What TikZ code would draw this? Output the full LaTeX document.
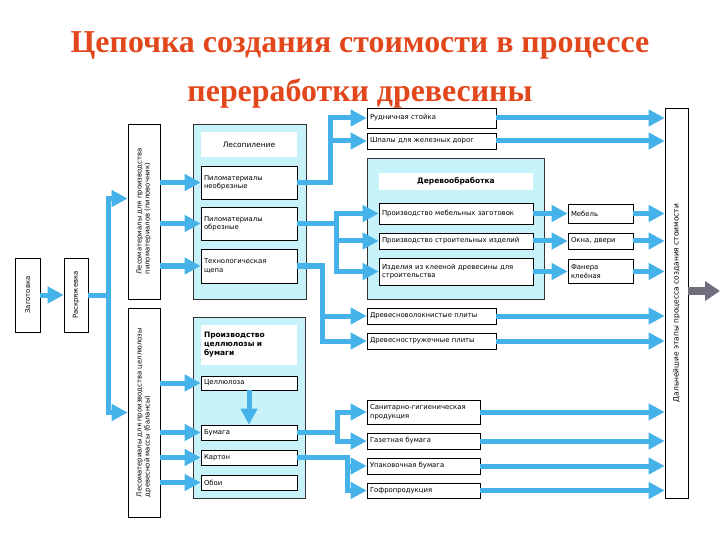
\documentclass[tikz,border=0pt]{standalone}
\usepackage{fontspec}
\usepackage{graphicx}
\setmainfont{Liberation Serif}
\newfontfamily\chainsans{DejaVu Sans}
\usetikzlibrary{arrows.meta, positioning, calc}
\definecolor{chainred}{HTML}{E2471C}
\definecolor{chainblue}{HTML}{45B3EA}
\definecolor{chaincyan}{HTML}{C8F2FA}
\definecolor{chaingray}{HTML}{6F6F7D}

\begin{document}
\begin{tikzpicture}[
    x=1bp, y=-1bp,
    item/.style={rectangle, draw=black, line width=0.6bp, fill=white, font=\chainsans\fontsize{6.9}{8.4}\selectfont, align=left, inner xsep=3bp, inner ysep=1bp},
    heading/.style={rectangle, fill=white, font=\chainsans\fontsize{7.5}{9}\selectfont, align=center, inner xsep=3bp, inner ysep=1bp},
    panel/.style={rectangle, draw=black!80, line width=0.6bp, fill=chaincyan},
    sidebox/.style={rectangle, draw=black, line width=0.6bp, fill=white, font=\chainsans\fontsize{6.9}{8}\selectfont, inner sep=0pt},
    arrow/.style={draw=chainblue, line width=5bp, -{Triangle[length=16bp, width=16bp]}},
    bigarrow/.style={draw=chaingray, line width=8bp, -{Triangle[length=15bp, width=19bp]}},
    title/.style={font=\fontsize{32}{32}\selectfont\bfseries, text=chainred}
]
\useasboundingbox[fill=white] (0,0) rectangle (720,540);

% title
\node[title] (title1) at (360,45) {Цепочка создания стоимости в процессе};
\node[title] (title2) at (360,93) {переработки древесины};

% raw wood
\node[sidebox, minimum width=25bp, minimum height=74bp] (zag) at (27.5,295) {\rotatebox{90}{Заготовка}};
\node[sidebox, minimum width=24bp, minimum height=74bp] (rask) at (76,295) {\rotatebox{90}{Раскряжевка}};
\node[sidebox, minimum width=32bp, minimum height=175bp] (pilov) at (144,211.5) {\rotatebox{90}{\begin{tabular}{@{}l@{}}Лесоматериалы для производства\\пиломатериалов (пиловочник)\end{tabular}}};
\node[sidebox, minimum width=32bp, minimum height=209bp] (balans) at (144,412.5) {\rotatebox{90}{\begin{tabular}{@{}l@{}}Лесоматериалы для производства целлюлозы\\древесной массы (балансы)\end{tabular}}};

% sawmill
\node[panel, minimum width=113bp, minimum height=175bp] (lesop) at (249.5,211.5) {};
\node[heading, minimum width=96bp, minimum height=25bp] (lesophead) at (249,144.5) {Лесопиление};
\node[item, text width=90bp, minimum height=33bp] (neobr) at (249,182.5) {Пиломатериалы\\необрезные};
\node[item, text width=90bp, minimum height=33bp] (obrez) at (249,223.5) {Пиломатериалы\\обрезные};
\node[item, text width=90bp, minimum height=34bp] (shchepa) at (249,266) {Технологическая\\щепа};

\node[item, text width=123bp, minimum height=20bp] (rud) at (431.5,118) {Рудничная стойка};
\node[item, text width=123bp, minimum height=16bp] (shpal) at (431.5,141) {Шпалы для железных дорог};

% woodworking
\node[panel, minimum width=177bp, minimum height=141bp] (derevo) at (455.5,228.5) {};
\node[heading, minimum width=154bp, minimum height=17bp] (derevohead) at (456,181.5) {\bfseries Деревообработка};
\node[item, text width=148bp, minimum height=21bp] (mebzag) at (456,213.5) {Производство мебельных заготовок};
\node[item, text width=148bp, minimum height=16bp] (stroiizd) at (456,241) {Производство строительных изделий};
\node[item, text width=148bp, minimum height=27bp] (kleen) at (456,271.5) {Изделия из клееной древесины для\\строительства};

\node[item, text width=59bp, minimum height=19bp] (mebel) at (600.5,213.5) {Мебель};
\node[item, text width=59bp, minimum height=16bp] (okna) at (600.5,241) {Окна, двери};
\node[item, text width=59bp, minimum height=24bp] (fanera) at (600.5,271.5) {Фанера\\клеёная};

\node[item, text width=123bp, minimum height=16bp] (dvp) at (431.5,316) {Древесноволокнистые плиты};
\node[item, text width=123bp, minimum height=16bp] (dsp) at (431.5,341) {Древесностружечные плиты};

% pulp and paper
\node[panel, minimum width=112bp, minimum height=181bp] (cellpanel) at (249,407.5) {};
\node[heading, align=left, text width=90bp, minimum height=40bp] (cellhead) at (249,345) {\bfseries Производство\\\bfseries целлюлозы и\\\bfseries бумаги};
\node[item, text width=90bp, minimum height=14bp] (cell) at (249,383) {Целлюлоза};
\node[item, text width=90bp, minimum height=15bp] (bumaga) at (249,432.5) {Бумага};
\node[item, text width=90bp, minimum height=15bp] (karton) at (249,457.5) {Картон};
\node[item, text width=90bp, minimum height=15bp] (oboi) at (249,482.5) {Обои};

\node[item, text width=107bp, minimum height=24bp] (sgp) at (423.5,412) {Санитарно-гигиеническая\\продукция};
\node[item, text width=107bp, minimum height=16bp] (gaz) at (423.5,441) {Газетная бумага};
\node[item, text width=107bp, minimum height=16bp] (upak) at (423.5,466) {Упаковочная бумага};
\node[item, text width=107bp, minimum height=15bp] (gofro) at (423.5,490.5) {Гофропродукция};

\node[sidebox, font=\chainsans\fontsize{7.5}{9}\selectfont, minimum width=23bp, minimum height=390bp] (further) at (676.5,303) {\rotatebox{90}{Дальнейшие этапы процесса создания стоимости}};

% branch points
\coordinate (split) at (108,295);
\coordinate (sawA) at (330,182.5);
\coordinate (sawB) at (336,223.5);
\coordinate (sawC) at (322,266);
\coordinate (papA) at (337,432.5);
\coordinate (papB) at (347,457.5);
\coordinate (out) at (720,291);

\draw[arrow] (zag) -- (rask);
\draw[arrow] (rask) -- (split) |- ([yshift=13bp]pilov.west);
\draw[arrow] (split) |- (balans.west);

\foreach \n in {neobr, obrez, shchepa}
    \draw[arrow] (pilov.east |- \n.west) -- (\n.west);
\foreach \n in {cell, bumaga, karton, oboi}
    \draw[arrow] (balans.east |- \n.west) -- (\n.west);

\draw[arrow] (neobr.east) -- (sawA) |- (rud.west);
\draw[arrow] (sawA) |- (shpal.west);
\draw[arrow] (obrez.east) -- (sawB) |- (mebzag.west);
\draw[arrow] (sawB) |- (stroiizd.west);
\draw[arrow] (sawB) |- (kleen.west);
\draw[arrow] (shchepa.east) -- (sawC) |- (dvp.west);
\draw[arrow] (sawC) |- (dsp.west);

\draw[arrow] (mebzag) -- (mebel);
\draw[arrow] (stroiizd) -- (okna);
\draw[arrow] (kleen) -- (fanera);

\draw[arrow] (cell) -- (bumaga);
\draw[arrow] (bumaga.east) -- (papA) |- (sgp.west);
\draw[arrow] (papA) |- (gaz.west);
\draw[arrow] (karton.east) -- (papB) |- (upak.west);
\draw[arrow] (papB) |- (gofro.west);

\foreach \n in {rud, shpal, mebel, okna, fanera, dvp, dsp, sgp, gaz, upak, gofro}
    \draw[arrow] (\n.east) -- (\n.east -| further.west);

\draw[bigarrow] (further.east |- out) -- (out);

\end{tikzpicture}
\end{document}
